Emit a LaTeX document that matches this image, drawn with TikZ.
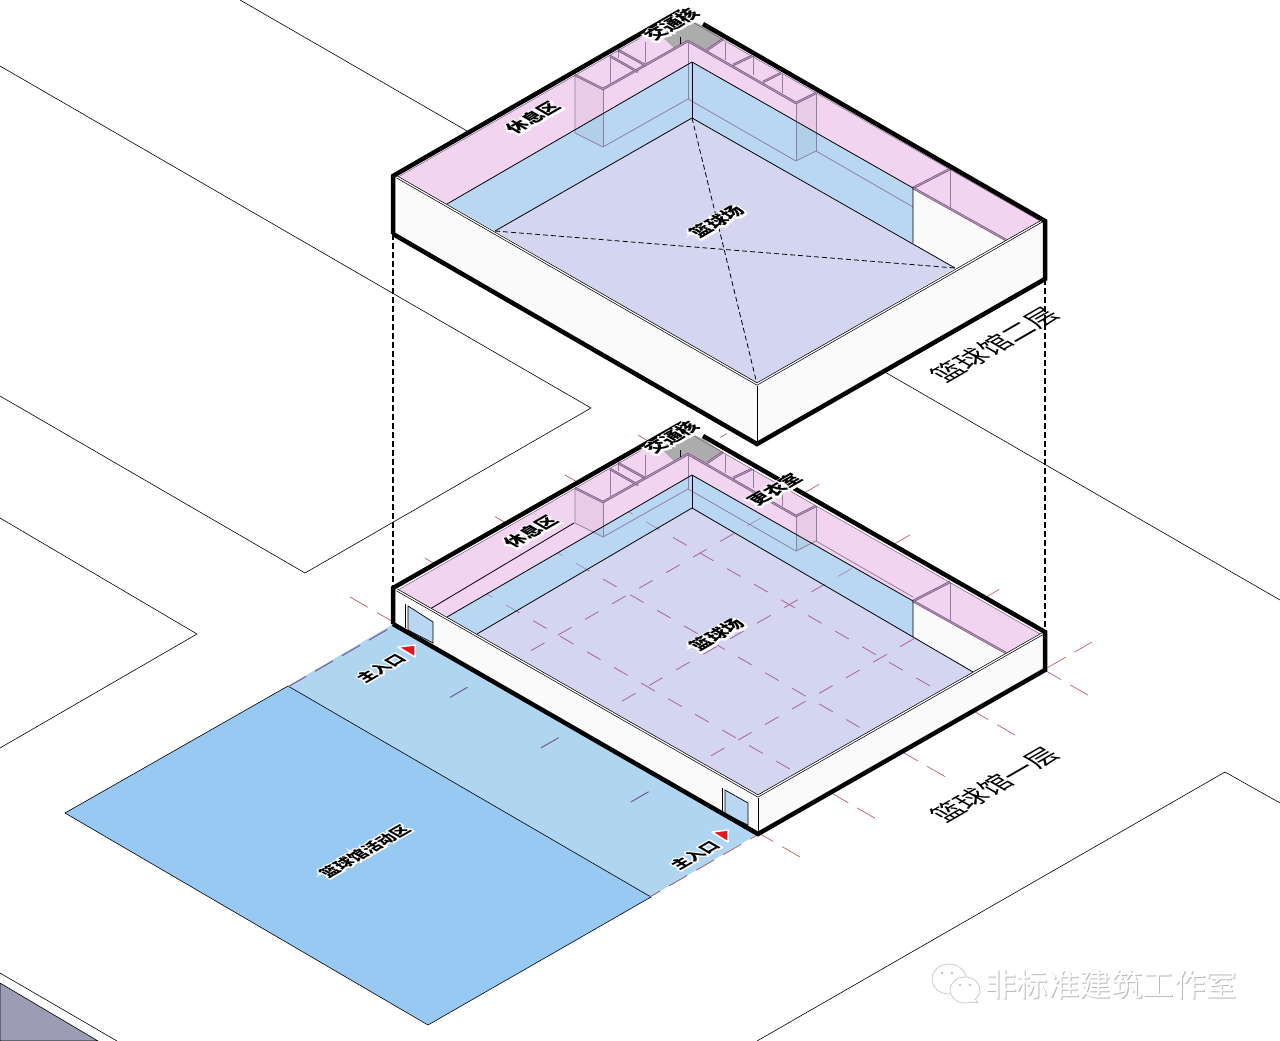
\documentclass[tikz,border=0pt]{standalone}
\usepackage{fontspec}
\newfontfamily\cjk{Noto Sans CJK SC}
\newfontfamily\cjkhalo{Noto Sans CJK SC}[FakeBold=20]
\newcommand{\halo}[1]{\makebox[0pt][l]{\cjkhalo\bfseries\textcolor{white}{#1}}#1}
\definecolor{pinkzone}{HTML}{F2D3F0}
\definecolor{bluezone}{HTML}{B9D7F3}
\definecolor{courtzone}{HTML}{D3D5F1}
\definecolor{wallface}{HTML}{FAFAFA}
\definecolor{bandzone}{HTML}{B0D5F1}
\definecolor{plazazone}{HTML}{97C9F2}
\definecolor{rimcolor}{HTML}{7A5A80}
\tikzstyle{road} = [draw=black, line width=0.6pt]
\tikzstyle{heavy} = [draw=black, line width=4.5pt, line join=miter]
\tikzstyle{thin} = [draw=black, line width=0.8pt]
\tikzstyle{rimline} = [draw=rimcolor, line width=0.8pt, double=pinkzone!55!rimcolor, double distance=0.8pt]
\tikzstyle{lightline} = [draw=rimcolor!70!bluezone, line width=0.8pt]
\tikzstyle{shade} = [fill=black, fill opacity=0.035]
\tikzstyle{tag} = [cm={.866,.5,-.866,.5,(0,0)}, inner sep=0pt, font=\cjk\bfseries\fontsize{18}{18}\selectfont]
\tikzstyle{smalltag} = [tag, font=\cjk\bfseries\fontsize{16}{16}\selectfont]
\tikzstyle{title} = [cm={.866,.5,-.866,.5,(0,0)}, inner sep=0pt, font=\cjk\fontsize{27}{27}\selectfont]
\tikzstyle{wmark} = [inner sep=0pt, font=\cjk\fontsize{31.5}{31.5}\selectfont]
\tikzstyle{door} = [fill=bluezone, draw=black, line width=0.7pt]
\tikzstyle{entry} = [fill={rgb,255:red,226;green,22;blue,28}, draw=white, line width=1.5pt, line join=round]
\tikzstyle{riser} = [draw=black, line width=1.1pt, dash pattern=on 6pt off 3pt]
\tikzstyle{cross} = [draw=black, line width=0.8pt, dash pattern=on 5pt off 3pt]
\tikzstyle{groundaxis} = [draw={rgb,255:red,196;green,92;blue,100}, line width=0.7pt, dash pattern=on 20.8pt off 10.4pt]
\tikzstyle{bandaxis} = [draw={rgb,255:red,104;green,104;blue,160}, line width=0.9pt, dash pattern=on 20.8pt off 10.4pt]
\tikzstyle{courtaxis} = [draw={rgb,255:red,176;green,110;blue,150}, line width=0.9pt, dash pattern=on 15.6pt off 15.6pt]
\tikzstyle{blueaxis} = [draw={rgb,255:red,164;green,140;blue,180}, line width=0.7pt, dash pattern=on 15.6pt off 15.6pt]

% the dashed grid, style as argument
\newcommand{\axisgrid}[1]{
  \foreach \sx/\cc in {638/67,565/149,495/231,425/313,350/395}
    \path[#1] ({\sx},{.577*\sx+\cc}) -- ++(450,260);
  \foreach \sx/\ex/\cc in {288/727/853,504/820/957,595/910/1060,684/1002/1166}
    \path[#1] ({\sx},{\cc-.577*\sx}) -- ({\ex},{\cc-.577*\ex});
  \foreach \sx/\cc in {450/957,541/1060,631/1166}
    \path[#1] ({\sx},{\cc-.577*\sx}) -- ({\sx+17.5},{\cc-.577*\sx-10.1});
  \path[#1,dash phase=9pt] (650,897) -- (1092,642);
}
% rooms behind the hall, #1 is the wall height
\newcommand{\rooms}[1]{
  \path[shade] (575,75) -- (603,89) -- (603,{89+#1}) -- (575,{75+#1}) -- cycle;
  \path[shade] (796,103) -- (816,93) -- (816,{93+#1}) -- (796,{103+#1}) -- cycle;
  \path[lightline] (575,75) -- (575,{75+#1}) -- (603,{89+#1}) -- (688,{41+#1})
    -- (796,{103+#1}) -- (816,{93+#1}) -- (913,{149+#1});
  \path[lightline] (603,89) -- (603,{89+#1});
  \path[lightline] (796,103) -- (796,{103+#1});
  \path[lightline] (816,93) -- (816,{93+#1});
  \path[lightline] (688,41) -- (688,{41+#1});
  \path[lightline] (610,56) -- (610,83);
  \path[lightline] (618,50) -- (618,58);
  \path[lightline] (645,42) -- (645,63);
  \path[lightline] (725,42) -- (725,60);
  \path[lightline] (753,56) -- (753,75);
  \path[lightline] (782,74) -- (782,93);
  \path[lightline] (950,169) -- (950,208);
  \path[fill=gray!65] (680,15) -- (703,26) -- (723,39) -- (705,50) -- (688,41) -- (675,49) -- (655,30) -- cycle;
  \path[rimline] (575,75) -- (603,89) -- (688,41) -- (796,103) -- (816,93);
  \path[rimline] (610,56) -- (638,72);
  \path[rimline] (618,50) -- (645,65);
  \path[rimline] (707,50) -- (723,39);
  \path[rimline] (733,65) -- (752,56);
  \path[rimline] (763,82) -- (781,73);
  \path[rimline] (913,188) -- (950,169);
  \path[rimline] (913,188) -- (1006,240);
  \path[thin] (680,37) -- (680,44);
}

\begin{document}
\begin{tikzpicture}[x=1pt,y=-1pt]
  \useasboundingbox (0,0) rectangle (1280,1041);
  \path[fill=white] (0,0) rectangle (1280,1041);

  % roads
  \path[road] (240,0) -- (1280,600);
  \path[road] (0,66) -- (591,408) -- (305,573) -- (0,396);
  \path[road] (0,518) -- (197,634) -- (0,748);
  \path[road] (757,1041) -- (1225,772) -- (1280,803);
  \path[road] (0,973) -- (117,1041);
  \path[road,fill={rgb,255:red,156;green,156;blue,181}] (0,983) -- (98,1041) -- (0,1041) -- cycle;

  % plaza
  \path[fill=bandzone] (393,624) -- (758,834) -- (650,897) -- (288,686) -- cycle;
  \path[road,fill=plazazone] (288,686) -- (651,897) -- (428,1025) -- (65,813) -- cycle;
  \axisgrid{groundaxis}
  \begin{scope}
    \clip (393,624) -- (758,834) -- (650,897) -- (288,686) -- cycle;
    \axisgrid{bandaxis}
  \end{scope}

  % first floor
  \path[fill=wallface] (393,588) -- (682,423) -- (1045,632) -- (1045,670) -- (758,834) -- (393,624) -- cycle;
  \path[fill=white] (393,588) -- (682,423) -- (1045,632) -- (758,798) -- cycle;
  \path[fill=pinkzone] (398,590) -- (680,428) -- (1040,634) -- (1006,653) -- (913,601) -- (692,475) -- (447,617) -- cycle;
  \path[fill=wallface] (913,601) -- (1006,653) -- (973,672) -- (913,637) -- cycle;
  \path[fill=bluezone] (447,617) -- (692,475) -- (913,601) -- (913,637) -- (692,508) -- (477,634) -- cycle;
  \path[fill=courtzone] (477,634) -- (692,508) -- (973,672) -- (758,796) -- cycle;
  \begin{scope}
    \clip (447,617) -- (692,475) -- (913,601) -- (913,637) -- (692,508) -- (477,634) -- cycle;
    \axisgrid{blueaxis}
  \end{scope}
  \begin{scope}
    \clip (477,634) -- (692,508) -- (973,672) -- (758,796) -- cycle;
    \axisgrid{courtaxis}
  \end{scope}
  \begin{scope}[shift={(0,413)}]
    \rooms{35}
  \end{scope}
  \path[thin] (430,609) -- (574,523);
  \path[thin] (447,617) -- (692,475) -- (913,601) -- (913,637);
  \path[thin] (692,475) -- (692,508);
  \path[thin] (477,634) -- (692,508) -- (973,672);
  \path[draw=rimcolor,line width=0.5pt] (398,590) -- (680,428) -- (1040,634);
  % entrance doors
  \path[door] (408,606) -- (433,622) -- (433,643) -- (408,630) -- cycle;
  \path[thin] (405.5,604) -- (405.5,628);
  \path[door] (725,790) -- (748,803) -- (748,825) -- (725,814) -- cycle;
  \path[thin] (722,788) -- (722,812);
  \path[draw=black,line width=0.7pt,double=white,double distance=1.2pt] (397,590) -- (758,796) -- (1042,634);
  \path[thin] (758,798) -- (758,834);
  \path[heavy] (393,624) -- (393,588) -- (682,423);
  \path[heavy] (393,624) -- (758,834) -- (1045,670) -- (1045,632) -- (703,436);

  % dashed risers
  \path[riser] (393,234) -- (393,588);
  \path[riser] (1045,279) -- (1045,632);

  % second floor
  \path[fill=wallface] (393,176) -- (680,11) -- (1045,221) -- (1045,279) -- (757,444) -- (393,234) -- cycle;
  \path[fill=white] (393,176) -- (680,11) -- (1045,221) -- (757,384) -- cycle;
  \path[fill=pinkzone] (398,177) -- (680,15) -- (1040,221) -- (1006,240) -- (913,188) -- (692,62) -- (447,204) -- cycle;
  \path[fill=wallface] (913,188) -- (1006,240) -- (955,268) -- (913,243) -- cycle;
  \path[fill=bluezone] (447,204) -- (692,62) -- (913,188) -- (913,243) -- (692,118) -- (495,231) -- cycle;
  \path[fill=courtzone] (495,231) -- (692,118) -- (955,268) -- (757,384) -- cycle;
  \rooms{58}
  \path[thin] (447,204) -- (692,62) -- (913,188) -- (913,243);
  \path[thin] (692,62) -- (692,118);
  \path[thin] (495,231) -- (692,118) -- (955,268);
  \path[cross] (692,118) -- (757,384);
  \path[cross] (495,231) -- (955,268);
  \path[draw=rimcolor,line width=0.5pt] (398,177) -- (680,15) -- (1040,221);
  \path[draw=black,line width=0.7pt,double=white,double distance=1.2pt] (397,177) -- (757,384) -- (1042,221);
  \path[thin] (757,386) -- (757,444);
  \path[heavy] (393,234) -- (393,176) -- (680,11);
  \path[heavy] (393,234) -- (757,444) -- (1045,279) -- (1045,221) -- (703,24);

  % red markers
  \path[entry] (398,647) -- (415,645) -- (415,657) -- cycle;
  \path[entry] (712,832) -- (728,830) -- (728,842) -- cycle;

  % labels
  \node[tag] (coreup) at (672,25) {\halo{交通核}};
  \node[tag] (restup) at (533,118) {\halo{休息区}};
  \node[tag] (courtup) at (717,222) {\halo{篮球场}};
  \node[tag] (corelow) at (672,438) {\halo{交通核}};
  \node[tag] (restlow) at (531,532) {\halo{休息区}};
  \node[tag] (lockerlow) at (775,490) {\halo{更衣室}};
  \node[tag] (courtlow) at (717,635) {\halo{篮球场}};
  \node[smalltag] (doorleft) at (381,668) {\halo{主入口}};
  \node[smalltag] (doorright) at (695,855) {\halo{主入口}};
  \node[smalltag] (plaza) at (365,851) {\halo{篮球馆活动区}};
  \node[title] (floortwo) at (995,345) {篮球馆二层};
  \node[title] (floorone) at (995,785) {篮球馆一层};

  % watermark
  \path[draw=gray!45,line width=0.7pt,fill=white] (949,979) ellipse (17pt and 15pt);
  \path[draw=gray!45,line width=0.7pt,fill=white] (965,990) ellipse (15pt and 13pt);
  \path[draw=gray!45,line width=0.7pt,fill=white] (975,999) -- (978,1003) -- (970,1002);
  \foreach \ex/\ey in {942/973,952/973,960/985,970/985}
    \path[fill=gray!50] (\ex,\ey) circle (1.3pt);
  \node[wmark,text=gray!55] (wmshadow) at (1112,985) {非标准建筑工作室};
  \node[wmark,text=white] (wmtext) at (1111,984.4) {非标准建筑工作室};
\end{tikzpicture}
\end{document}
